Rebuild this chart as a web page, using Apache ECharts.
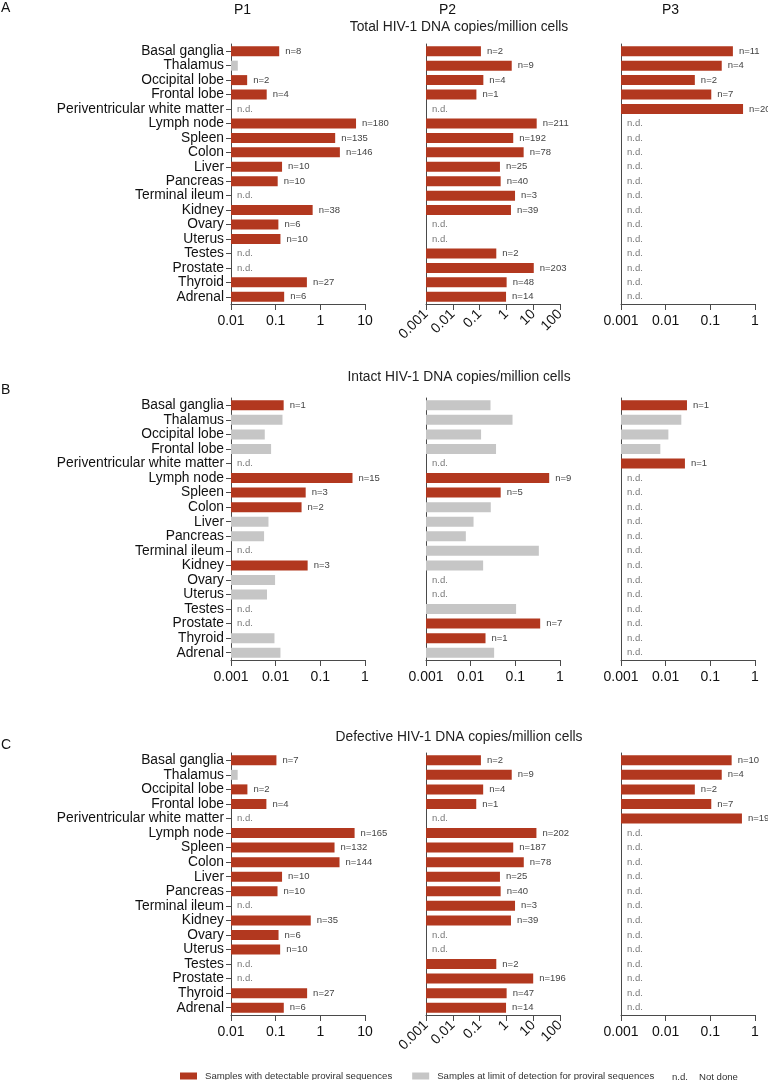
<!DOCTYPE html>
<html>
<head>
<meta charset="utf-8">
<script src="https://cdn.jsdelivr.net/npm/echarts@6/dist/echarts.min.js"></script>
<style>
html,body{margin:0;padding:0;background:#fff;}
#chart{width:768px;height:1080px;}
</style>
</head>
<body>
<div id="chart"></div>
<script>
// ---------------- DATA ----------------
const categories = ['Basal ganglia','Thalamus','Occipital lobe','Frontal lobe','Periventricular white matter','Lymph node','Spleen','Colon','Liver','Pancreas','Terminal ileum','Kidney','Ovary','Uterus','Testes','Prostate','Thyroid','Adrenal'];
const patients = ['P1','P2','P3'];
const panelLetters = ['A','B','C'];
const panelTitles = ['Total HIV-1 DNA copies/million cells','Intact HIV-1 DNA copies/million cells','Defective HIV-1 DNA copies/million cells'];
const legendNames = ['Samples with detectable proviral sequences','Samples at limit of detection for proviral sequences'];
const ndText = 'n.d.';
const ndLegend = 'Not done';

// axis ranges per panel row / patient column
const axisMins = [[0.01,0.001,0.001],[0.001,0.001,0.001],[0.01,0.001,0.001]];
const axisMaxs = [[10,100,1],[1,1,1],[10,100,1]];

// values (copies/million cells); null = n.d.
// n arrays: number of proviral sequences for detectable samples; null = at limit of detection (grey) or n.d.
const totalP1  = [0.12,0.0142,0.023,0.063,null,6.3,2.15,2.74,0.139,0.111,null,0.673,0.115,0.128,null,null,0.50,0.155];
const totalP1N = [8,null,2,4,null,180,135,146,10,10,null,38,6,10,null,null,27,6];
const totalP2  = [0.112,1.58,0.138,0.076,null,13.5,1.8,4.4,0.575,0.61,2.1,1.48,null,null,0.42,10.5,1.02,0.97];
const totalP2N = [2,9,4,1,null,211,192,78,25,40,3,39,null,null,2,203,48,14];
const totalP3  = [0.32,0.18,0.045,0.105,0.54,null,null,null,null,null,null,null,null,null,null,null,null,null];
const totalP3N = [11,4,2,7,20,null,null,null,null,null,null,null,null,null,null,null,null,null];

const intactP1  = [0.0151,0.0142,0.0057,0.0079,null,0.525,0.047,0.038,0.0069,0.0055,null,0.052,0.0097,0.0064,null,null,0.0094,0.0128];
const intactP1N = [1,null,null,null,null,15,3,2,null,null,null,3,null,null,null,null,null,null];
const intactP2  = [0.0278,0.0865,0.0171,0.037,null,0.573,0.047,0.0282,0.0116,0.0078,0.336,0.019,null,null,0.104,0.36,0.0215,0.0335];
const intactP2N = [null,null,null,null,null,9,5,null,null,null,null,null,null,null,null,7,1,null];
const intactP3  = [0.030,0.0224,0.0115,0.0076,0.027,null,null,null,null,null,null,null,null,null,null,null,null,null];
const intactP3N = [1,null,null,null,1,null,null,null,null,null,null,null,null,null,null,null,null,null];

const defectiveP1  = [0.104,0.0141,0.0233,0.062,null,5.85,2.08,2.69,0.139,0.11,null,0.61,0.116,0.126,null,null,0.506,0.152];
const defectiveP1N = [7,null,2,4,null,165,132,144,10,10,null,35,6,10,null,null,27,6];
const defectiveP2  = [0.112,1.58,0.136,0.075,null,13.2,1.8,4.45,0.575,0.61,2.1,1.48,null,null,0.42,10,1.02,0.97];
const defectiveP2N = [2,9,4,1,null,202,187,78,25,40,3,39,null,null,2,196,47,14];
const defectiveP3  = [0.30,0.18,0.045,0.105,0.51,null,null,null,null,null,null,null,null,null,null,null,null,null];
const defectiveP3N = [10,4,2,7,19,null,null,null,null,null,null,null,null,null,null,null,null,null];

const panelValues = [[totalP1,totalP2,totalP3],[intactP1,intactP2,intactP3],[defectiveP1,defectiveP2,defectiveP3]];
const panelCounts = [[totalP1N,totalP2N,totalP3N],[intactP1N,intactP2N,intactP3N],[defectiveP1N,defectiveP2N,defectiveP3N]];

// ---------------- LAYOUT / STYLE ----------------
const FONT = 'Liberation Sans, Arial, Helvetica, sans-serif';
const RED = '#B2381F';
const GREY = '#C6C6C6';
const AXIS = '#4a4a4a';
const colLeft = [231, 426, 621];
const colWidth = 134;
const rowTop = [44, 398, 753];
const rowHeight = [260, 262, 262];
const titleY = [27, 377, 737];
const letterY = [8, 390, 745];
const headerX = [242, 447, 670];

const grids = [], xAxes = [], yAxes = [], series = [];
const fmtNum = v => String(parseFloat(Number(v).toPrecision(6)));

for (let r = 0; r < 3; r++) {
  for (let c = 0; c < 3; c++) {
    const g = grids.length;
    grids.push({left: colLeft[c], top: rowTop[r], width: colWidth, height: rowHeight[r], containLabel: false});
    const rotated = (c === 1 && axisMaxs[r][c] === 100);
    xAxes.push({
      type: 'log', logBase: 10, gridIndex: g,
      min: axisMins[r][c], max: axisMaxs[r][c], startValue: axisMins[r][c],
      axisLine: {show: true, lineStyle: {color: AXIS, width: 1}},
      axisTick: {show: true, length: 6, lineStyle: {color: AXIS}},
      minorTick: {show: false},
      splitLine: {show: false},
      axisLabel: {
        show: true, color: '#111', fontFamily: FONT, fontSize: 14,
        margin: rotated ? 8 : 10, rotate: rotated ? 45 : 0,
        formatter: fmtNum, showMinLabel: true, showMaxLabel: true
      }
    });
    yAxes.push({
      type: 'category', gridIndex: g, data: categories, inverse: true,
      axisLine: {show: true, lineStyle: {color: AXIS, width: 1}},
      axisTick: {show: c === 0, length: 5, alignWithLabel: true, lineStyle: {color: AXIS}},
      axisLabel: {show: c === 0, color: '#111', fontFamily: FONT, fontSize: 13.8, margin: 7, interval: 0},
      splitLine: {show: false}
    });
    const vals = panelValues[r][c];
    const counts = panelCounts[r][c];
    const redData = vals.map((v, i) => (v !== null && counts[i] !== null) ? v : '-');
    const greyData = vals.map((v, i) => (v !== null && counts[i] === null) ? v : '-');
    const ndData = [];
    vals.forEach((v, i) => { if (v === null) ndData.push([axisMins[r][c], categories[i]]); });
    series.push({
      type: 'bar', name: legendNames[0], xAxisIndex: g, yAxisIndex: g,
      data: redData, barWidth: 10, barGap: '-100%',
      itemStyle: {color: RED},
      label: {show: true, position: 'right', distance: 6, color: '#444', fontFamily: FONT, fontSize: 9.5,
        formatter: p => 'n=' + counts[p.dataIndex]},
      animation: false
    });
    series.push({
      type: 'bar', name: legendNames[1], xAxisIndex: g, yAxisIndex: g,
      data: greyData, barWidth: 10, barGap: '-100%',
      itemStyle: {color: GREY},
      animation: false
    });
    series.push({
      type: 'scatter', name: 'nd', xAxisIndex: g, yAxisIndex: g,
      data: ndData, symbolSize: 0, silent: true,
      label: {show: true, position: 'right', distance: 6, color: '#555', fontFamily: FONT, fontSize: 9.5,
        formatter: () => ndText},
      animation: false
    });
  }
}

const graphics = [];
patients.forEach((p, i) => graphics.push({type: 'text', left: headerX[i] - 8, top: 3,
  style: {text: p, fill: '#111', font: '14px ' + FONT}}));
panelLetters.forEach((l, i) => graphics.push({type: 'text', left: 1, top: letterY[i] - 7,
  style: {text: l, fill: '#111', font: '14px ' + FONT}}));
panelTitles.forEach((t, i) => graphics.push({type: 'text', x: 459, y: titleY[i],
  style: {text: t, fill: '#222', font: '13.8px ' + FONT, textAlign: 'center', textVerticalAlign: 'middle'}}));
graphics.push({type: 'text', x: 672, y: 1077,
  style: {text: ndText, fill: '#333', font: '9.6px ' + FONT, textVerticalAlign: 'middle'}});
graphics.push({type: 'text', x: 699, y: 1077,
  style: {text: ndLegend, fill: '#333', font: '9.6px ' + FONT, textVerticalAlign: 'middle'}});

const option = {
  animation: false,
  backgroundColor: '#fff',
  grid: grids, xAxis: xAxes, yAxis: yAxes, series: series,
  legend: {
    data: legendNames, left: 180, top: 1071, icon: 'rect', itemWidth: 17, itemHeight: 7,
    itemGap: 20, selectedMode: false, padding: 0,
    textStyle: {color: '#333', fontFamily: FONT, fontSize: 9.6, padding: [0,0,0,3]}
  },
  graphic: graphics
};
const chart = echarts.init(document.getElementById('chart'), null, {renderer: 'canvas'});
chart.setOption(option);
</script>
</body>
</html>
